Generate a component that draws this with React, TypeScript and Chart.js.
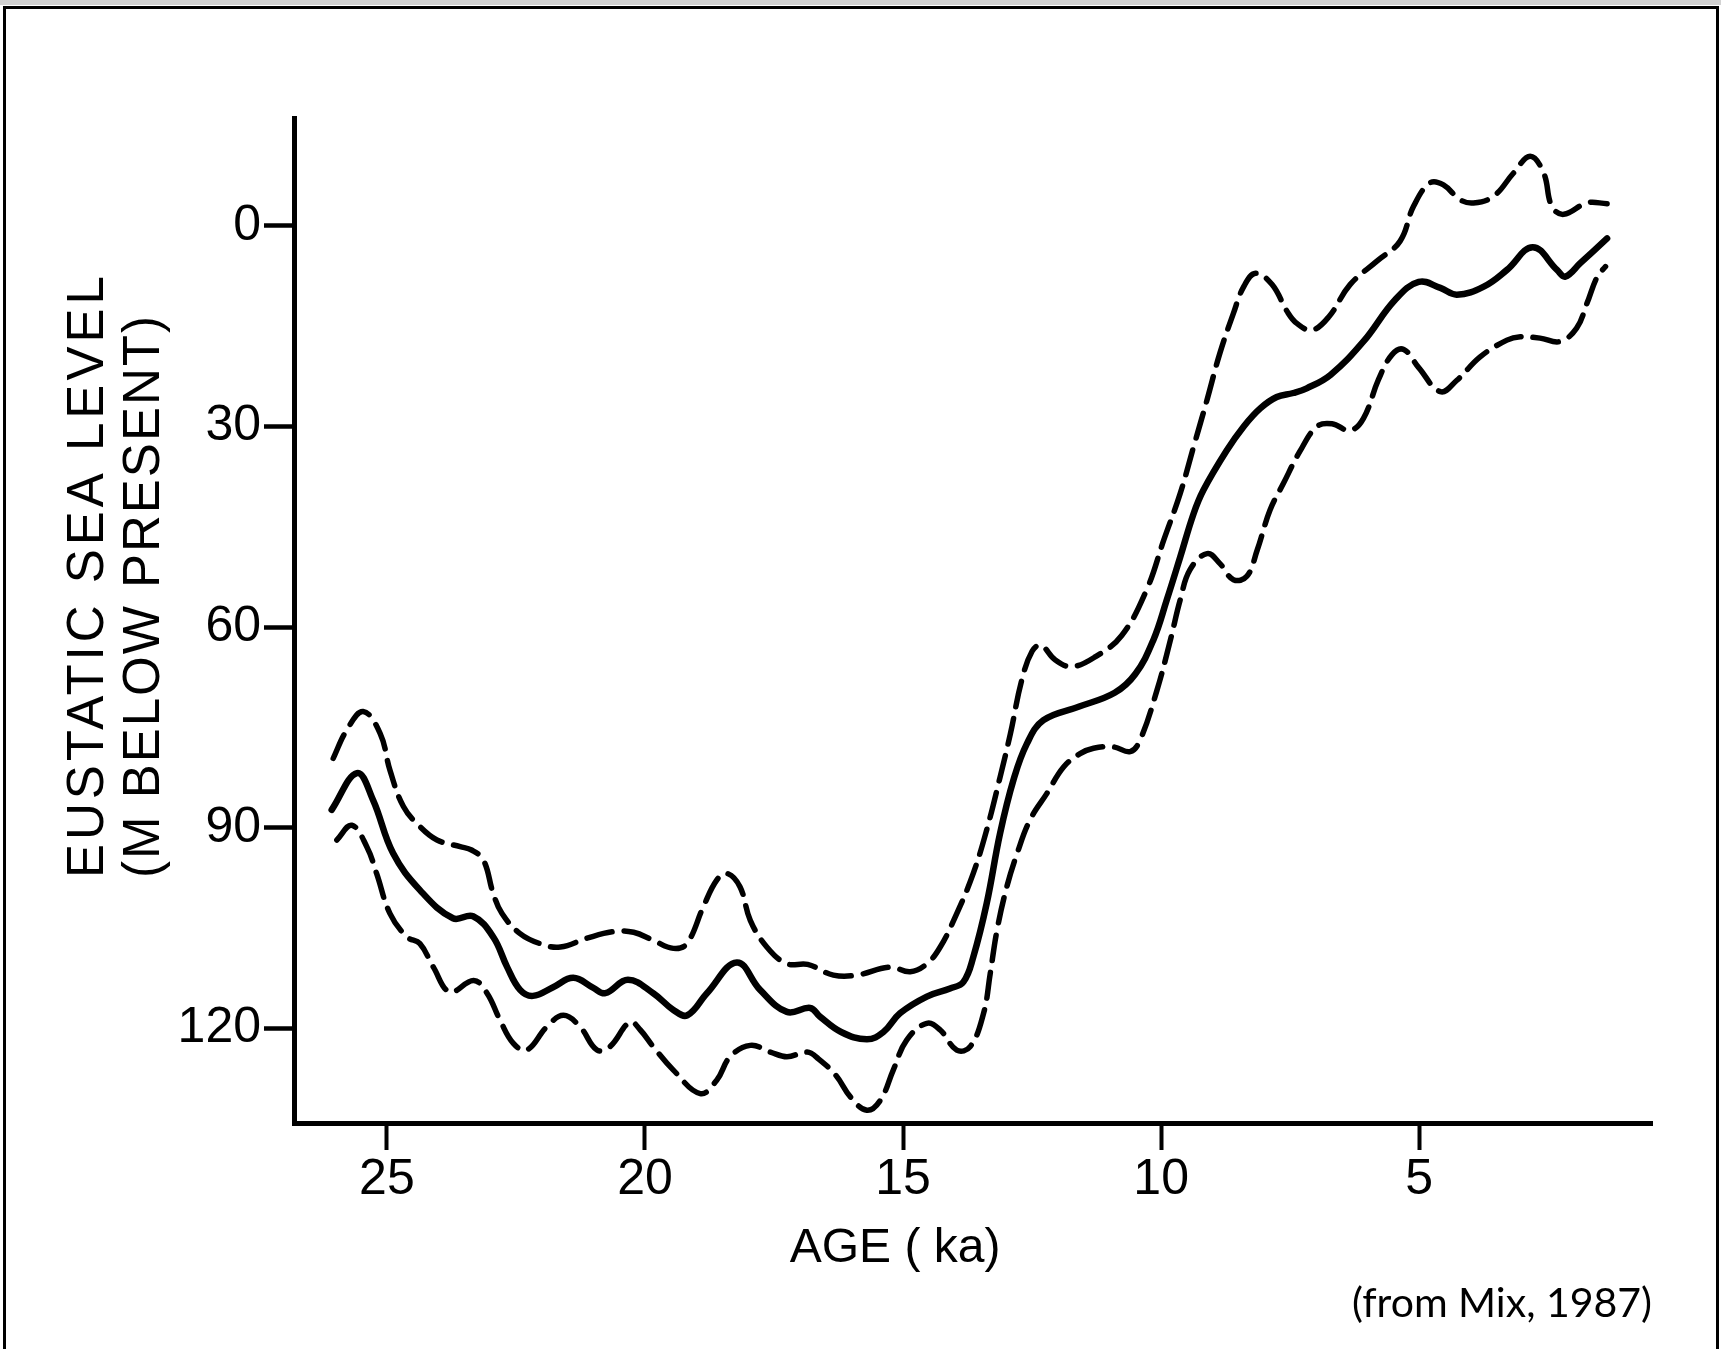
import React, { useEffect, useRef } from 'react';
import { Chart, registerables } from 'chart.js';

Chart.register(...registerables);

// ---------- data (age in ka, eustatic sea level in m below present) ----------
const meanAge = [26.07, 25.58, 25.27, 24.88, 24.36, 23.72, 23.33, 22.94, 22.67, 22.42, 22.17, 21.78, 21.39, 21.0, 20.77, 20.33, 19.84, 19.45, 19.18, 18.8, 18.22, 17.77, 17.25, 16.8, 16.61, 16.2, 15.7, 15.38, 15.06, 14.54, 14.09, 13.83, 13.64, 13.38, 13.12, 12.86, 12.6, 12.28, 11.6, 10.9, 10.5, 10.15, 9.89, 9.63, 9.37, 9.18, 8.73, 8.4, 8.08, 7.76, 7.44, 7.18, 6.72, 6.08, 5.47, 5.01, 4.59, 4.27, 3.75, 3.3, 2.8, 2.33, 2.17, 1.88, 1.36];
const meanDepth = [87.3, 81.8, 85.8, 93.8, 99.3, 103.5, 103.2, 106.3, 110.8, 114.2, 115.1, 113.8, 112.4, 113.9, 114.7, 112.7, 114.7, 117.2, 118.0, 114.7, 110.1, 114.2, 117.5, 116.9, 118.2, 120.5, 121.6, 120.5, 117.7, 115.2, 114.0, 113.0, 109.3, 101.3, 90.8, 82.8, 77.4, 73.9, 71.9, 69.8, 67.0, 61.9, 55.9, 49.5, 43.0, 39.5, 33.6, 30.0, 27.3, 25.6, 25.0, 24.3, 22.3, 17.3, 11.1, 8.4, 9.3, 10.3, 9.1, 6.6, 3.2, 6.6, 7.6, 5.6, 1.9];

const upperAge = [26.04, 25.78, 25.46, 25.13, 24.94, 24.68, 24.36, 24.03, 23.58, 23.36, 23.13, 22.94, 22.77, 22.42, 22.03, 21.64, 21.13, 20.61, 20.22, 19.84, 19.45, 19.19, 18.87, 18.61, 18.41, 18.16, 17.96, 17.64, 17.25, 16.85, 16.35, 15.9, 15.25, 14.86, 14.54, 14.28, 13.96, 13.64, 13.38, 13.12, 12.92, 12.7, 12.5, 12.33, 12.05, 11.73, 11.27, 10.76, 10.28, 9.95, 9.63, 9.37, 9.11, 8.86, 8.6, 8.4, 8.17, 7.85, 7.56, 7.37, 7.08, 6.75, 6.34, 5.82, 5.37, 5.11, 4.79, 4.53, 4.21, 3.95, 3.56, 3.17, 2.85, 2.59, 2.43, 2.2, 1.75, 1.36];
const upperDepth = [79.6, 75.4, 72.6, 75.9, 81.4, 86.8, 89.8, 91.8, 92.8, 93.3, 94.8, 99.8, 102.8, 105.8, 107.3, 107.8, 106.5, 105.5, 105.6, 106.8, 108.0, 107.3, 101.8, 97.8, 96.8, 98.8, 103.8, 107.8, 110.3, 110.4, 112.0, 112.0, 110.8, 111.5, 110.3, 107.8, 102.8, 96.8, 90.3, 82.4, 75.9, 67.9, 63.6, 62.7, 64.9, 65.9, 64.4, 61.2, 54.4, 47.0, 40.0, 33.0, 26.0, 19.0, 13.1, 9.1, 7.1, 8.8, 12.8, 14.6, 15.6, 13.6, 8.8, 5.3, 2.3, -2.9, -6.4, -6.1, -3.9, -3.4, -4.4, -7.9, -10.4, -7.9, -2.9, -1.7, -3.4, -3.3];

const lowerAge = [25.97, 25.68, 25.39, 25.2, 24.94, 24.61, 24.36, 24.1, 23.78, 23.32, 23.06, 22.81, 22.55, 22.29, 21.9, 21.58, 21.26, 20.93, 20.68, 20.29, 20.09, 19.84, 19.45, 18.93, 18.61, 18.35, 17.96, 17.57, 17.25, 16.86, 16.64, 16.3, 16.02, 15.7, 15.44, 15.19, 14.93, 14.54, 14.28, 13.96, 13.7, 13.44, 13.31, 13.18, 12.99, 12.79, 12.54, 12.21, 11.89, 11.57, 11.31, 10.92, 10.6, 10.41, 10.08, 9.82, 9.63, 9.44, 9.11, 8.86, 8.6, 8.34, 8.14, 7.89, 7.63, 7.31, 6.98, 6.69, 6.34, 6.08, 5.79, 5.53, 5.3, 5.01, 4.59, 4.27, 3.82, 3.3, 3.04, 2.66, 2.27, 1.95, 1.75, 1.55, 1.39];
const lowerDepth = [91.8, 89.6, 92.8, 96.8, 102.8, 106.3, 107.3, 110.8, 114.5, 112.8, 114.7, 118.7, 122.2, 123.2, 119.7, 118.0, 119.7, 123.2, 122.7, 119.0, 120.2, 122.7, 126.2, 129.7, 127.7, 124.2, 122.5, 123.5, 124.2, 123.5, 124.5, 127.0, 130.2, 132.2, 130.7, 126.2, 121.7, 119.2, 120.2, 123.2, 122.7, 117.7, 111.7, 105.3, 98.8, 93.8, 88.8, 84.8, 80.9, 78.9, 78.1, 77.9, 78.6, 76.9, 69.4, 61.9, 55.9, 51.4, 49.0, 50.5, 52.9, 52.4, 48.5, 42.5, 38.5, 33.7, 30.0, 29.6, 30.6, 28.8, 23.0, 19.3, 18.5, 21.2, 24.8, 23.1, 19.6, 17.1, 16.6, 16.8, 17.3, 15.3, 11.6, 7.6, 6.1];

const ageTicks = [25, 20, 15, 10, 5];
const depthTicks = [0, 30, 60, 90, 120];

const xTitle = 'AGE ( ka)';
const yTitleLines = ['EUSTATIC SEA LEVEL', '(M BELOW PRESENT)'];
const caption = '(from Mix, 1987)';

// ---------- styling ----------
const W = 1721;
const H = 1349;
const LETTER_FONT = '"Liberation Sans", Arial, sans-serif';
const CAPTION_FONT = 'Lato, "Open Sans", sans-serif';

const axisTitlesPlugin = {
  id: 'axisTitles',
  afterDraw(chart: any) {
    const { ctx, chartArea: a } = chart;
    ctx.save();
    ctx.fillStyle = '#000';
    // x-axis title
    ctx.font = `48px ${LETTER_FONT}`;
    ctx.textAlign = 'center';
    ctx.textBaseline = 'middle';
    ctx.fillText(xTitle, a.left + 0.4426 * (a.right - a.left), a.bottom + 126);
    // y-axis title (two rotated lines, starting at same height)
    const startY = a.bottom - 245;
    const baseX = [a.left - 191, a.left - 135];
    const spacing = ['4px', '2px'];
    ctx.font = `51px ${LETTER_FONT}`;
    ctx.textAlign = 'left';
    ctx.textBaseline = 'alphabetic';
    yTitleLines.forEach((line, i) => {
      ctx.save();
      (ctx as any).letterSpacing = spacing[i];
      ctx.translate(baseX[i], startY);
      ctx.rotate(-Math.PI / 2);
      ctx.fillText(line, 0, 0);
      ctx.restore();
    });
    ctx.restore();
  },
};

export default function App() {
  const canvasRef = useRef<HTMLCanvasElement | null>(null);

  useEffect(() => {
    const canvas = canvasRef.current;
    if (!canvas) return;
    const toXY = (ages: number[], depths: number[]) => ages.map((a, i) => ({ x: a, y: depths[i] }));
    const base = {
      pointRadius: 0,
      borderColor: '#000',
      backgroundColor: '#000',
      fill: false,
      tension: 0.4,
      borderCapStyle: 'round' as const,
      borderJoinStyle: 'round' as const,
    };
    const tickFont = { family: LETTER_FONT, size: 50, weight: 'normal' as const, lineHeight: 1.2 };

    const chart = new Chart(canvas, {
      type: 'line',
      data: {
        datasets: [
          { ...base, label: 'Upper limit', data: toXY(upperAge, upperDepth), borderWidth: 5.5, borderDash: [26, 12] },
          { ...base, label: 'Eustatic sea level', data: toXY(meanAge, meanDepth), borderWidth: 6.5 },
          { ...base, label: 'Lower limit', data: toXY(lowerAge, lowerDepth), borderWidth: 5.5, borderDash: [26, 12] },
        ],
      },
      options: {
        responsive: false,
        maintainAspectRatio: false,
        animation: false,
        events: [],
        layout: { padding: { left: 0, top: 118, right: 69, bottom: 0 } },
        plugins: {
          legend: { display: false },
          tooltip: { enabled: false },
          title: {
            display: true,
            text: caption,
            position: 'bottom',
            align: 'end',
            color: '#000',
            font: { family: CAPTION_FONT, size: 41, weight: 'normal', lineHeight: 1.2 },
            padding: { top: 0, bottom: 21 },
          },
        },
        scales: {
          x: {
            type: 'linear',
            reverse: true,
            min: 0.49,
            max: 26.8,
            afterBuildTicks: (s: any) => {
              s.ticks = ageTicks.map((v) => ({ value: v }));
            },
            afterFit: (s: any) => {
              s.height = 155.8;
            },
            ticks: {
              color: '#000',
              font: tickFont,
              padding: 0,
              maxRotation: 0,
              minRotation: 0,
              autoSkip: false,
              callback: (v: any) => String(v),
            },
            grid: {
              display: true,
              drawOnChartArea: false,
              drawTicks: true,
              tickLength: 27,
              tickWidth: 4,
              tickColor: '#000',
            },
            border: { display: true, color: '#000', width: 5 },
          },
          y: {
            type: 'linear',
            reverse: true,
            min: -16.1,
            max: 134.1,
            afterBuildTicks: (s: any) => {
              s.ticks = depthTicks.map((v) => ({ value: v }));
            },
            afterFit: (s: any) => {
              s.width = 294;
            },
            ticks: {
              color: '#000',
              font: tickFont,
              padding: 3,
              autoSkip: false,
              callback: (v: any) => String(v),
            },
            grid: {
              display: true,
              drawOnChartArea: false,
              drawTicks: true,
              tickLength: 30,
              tickWidth: 4.5,
              tickColor: '#000',
            },
            border: { display: true, color: '#000', width: 5 },
          },
        },
      },
      plugins: [axisTitlesPlugin],
    });

    return () => {
      chart.destroy();
    };
  }, []);

  return (
    <div
      style={{
        position: 'absolute',
        left: 0,
        top: 0,
        width: W,
        height: H,
        background: '#fff',
        overflow: 'hidden',
      }}
    >
      <div style={{ position: 'absolute', left: 0, top: 0, width: W, height: 5, background: '#d2d2d2' }} />
      <div
        style={{
          position: 'absolute',
          left: 3,
          top: 6,
          width: 1716,
          height: H - 6,
          boxSizing: 'border-box',
          borderTop: '3px solid #000',
          borderLeft: '3px solid #000',
          borderRight: '3px solid #000',
        }}
      />
      <canvas
        ref={canvasRef}
        width={W}
        height={H}
        style={{ position: 'absolute', left: 0, top: 0, width: W, height: H, display: 'block' }}
      />
    </div>
  );
}
